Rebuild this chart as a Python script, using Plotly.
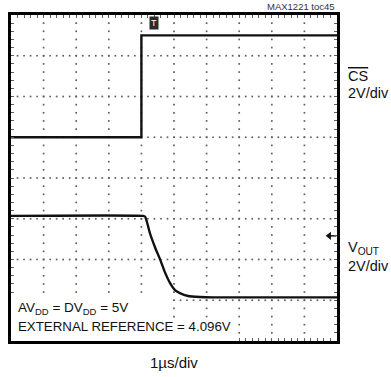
import plotly.graph_objects as go

# Oscilloscope screen: 10 horizontal divisions (1 us/div), 8 vertical divisions
N_XDIV = 10
N_YDIV = 8

# Chip-select input (V) vs time (us)
cs_time = [0.0, 4.0, 4.0, 10.0]
cs_volts = [0.0, 0.0, 5.0, 5.0]

# DAC output (V) vs time (us)
vout_time = [0.0, 4.05, 4.11, 4.17, 4.26, 4.42, 4.57, 4.72, 4.88, 5.03, 5.18, 5.43, 5.80, 6.20, 10.0]
vout_volts = [4.0, 4.0, 3.97, 3.70, 3.16, 2.45, 1.88, 1.24, 0.70, 0.36, 0.21, 0.07, 0.02, 0.0, 0.0]

# channel scaling and screen position of each trace's 0 V level (divisions)
VOLTS_PER_DIV = 2.0
CS_ZERO_DIV = 5.0
VOUT_ZERO_DIV = 1.07
VOUT_MARKER_DIV = 2.58
TRIGGER_TIME = 4.39

FONT = "Liberation Sans, Arial, sans-serif"
INK = "#111111"
GRID = "#5f5f5f"


def to_div(values, zero):
    return [zero + v / VOLTS_PER_DIV for v in values]


fig = go.Figure()

# dotted graticule
gx, gy = [], []
for i in range(1, N_XDIV):
    for k in range(1, N_YDIV * 5):
        gx.append(i)
        gy.append(k * 0.2)
for j in range(1, N_YDIV):
    for k in range(1, N_XDIV * 5):
        gx.append(k * 0.2)
        gy.append(j)
fig.add_trace(go.Scatter(
    x=gx, y=gy, mode="markers",
    marker=dict(symbol="square", size=1.7, color=GRID, line=dict(width=0)),
    hoverinfo="skip", showlegend=False,
))

fig.add_trace(go.Scatter(
    x=cs_time, y=to_div(cs_volts, CS_ZERO_DIV), mode="lines",
    line=dict(color=INK, width=2.4), showlegend=False,
))
fig.add_trace(go.Scatter(
    x=vout_time, y=to_div(vout_volts, VOUT_ZERO_DIV), mode="lines",
    line=dict(color=INK, width=2.4, shape="spline", smoothing=0.6), showlegend=False,
))

# output reference marker at the right edge of the screen
fig.add_trace(go.Scatter(
    x=[9.72, 9.98], y=[VOUT_MARKER_DIV, VOUT_MARKER_DIV], mode="lines",
    line=dict(color=INK, width=1.5), hoverinfo="skip", showlegend=False,
))
fig.add_trace(go.Scatter(
    x=[9.76], y=[VOUT_MARKER_DIV], mode="markers",
    marker=dict(symbol="triangle-left", size=7, color=INK, line=dict(width=0)),
    hoverinfo="skip", showlegend=False,
))

# white boxes behind the condition notes
fig.add_shape(type="rect", xref="x", yref="y", x0=0, x1=4.94, y0=0, y1=1.18,
              fillcolor="white", line=dict(width=0), layer="above")
fig.add_shape(type="rect", xref="x", yref="y", x0=0, x1=6.81, y0=0, y1=0.56,
              fillcolor="white", line=dict(width=0), layer="above")

ann = []
# trigger marker
ann.append(dict(x=TRIGGER_TIME, y=7.8, xref="x", yref="y", text="T", showarrow=False,
                font=dict(family=FONT, size=9, color="white"), bgcolor="#2a2a2a",
                borderpad=1))

ann.append(dict(x=1.0, y=1.025, xref="paper", yref="paper", xanchor="right", yanchor="middle",
                text="MAX1221 toc45", showarrow=False,
                font=dict(family=FONT, size=9.5, color="#333333")))
ann.append(dict(x=1.028, y=0.813, xref="paper", yref="paper", xanchor="left", yanchor="middle",
                text='<span style="text-decoration:overline">CS</span>', showarrow=False,
                font=dict(family=FONT, size=14.5, color=INK)))
ann.append(dict(x=1.028, y=0.761, xref="paper", yref="paper", xanchor="left", yanchor="middle",
                text="2V/div", showarrow=False, font=dict(family=FONT, size=14.5, color=INK)))
ann.append(dict(x=1.028, y=0.285, xref="paper", yref="paper", xanchor="left", yanchor="middle",
                text="V<sub>OUT</sub>", showarrow=False, font=dict(family=FONT, size=14.5, color=INK)))
ann.append(dict(x=1.028, y=0.230, xref="paper", yref="paper", xanchor="left", yanchor="middle",
                text="2V/div", showarrow=False, font=dict(family=FONT, size=14.5, color=INK)))
ann.append(dict(x=0.5, y=-0.067, xref="paper", yref="paper", xanchor="center", yanchor="middle",
                text="1\u00b5s/div", showarrow=False, font=dict(family=FONT, size=15, color=INK)))
ann.append(dict(x=0.0153, y=0.101, xref="paper", yref="paper", xanchor="left", yanchor="middle",
                text="AV<sub>DD</sub> = DV<sub>DD</sub> = 5V", showarrow=False,
                font=dict(family=FONT, size=13.5, color=INK)))
ann.append(dict(x=0.0153, y=0.043, xref="paper", yref="paper", xanchor="left", yanchor="middle",
                text="EXTERNAL REFERENCE = 4.096V", showarrow=False,
                font=dict(family=FONT, size=13.3, color=INK)))

axis_common = dict(showgrid=False, zeroline=False, showticklabels=False,
                   showline=True, linewidth=3, linecolor="black", mirror="ticks",
                   ticks="inside", ticklen=3, tickwidth=1, tickcolor=GRID,
                   fixedrange=True)

fig.update_layout(
    width=391, height=377,
    margin=dict(l=11, r=54, t=15, b=36, pad=0),
    paper_bgcolor="white", plot_bgcolor="white",
    xaxis=dict(range=[0, N_XDIV], dtick=0.2, tick0=0, **axis_common),
    yaxis=dict(range=[0, N_YDIV], dtick=0.2, tick0=0, **axis_common),
    annotations=ann,
    showlegend=False,
)

fig.write_html("out.html", config={"displayModeBar": False})
